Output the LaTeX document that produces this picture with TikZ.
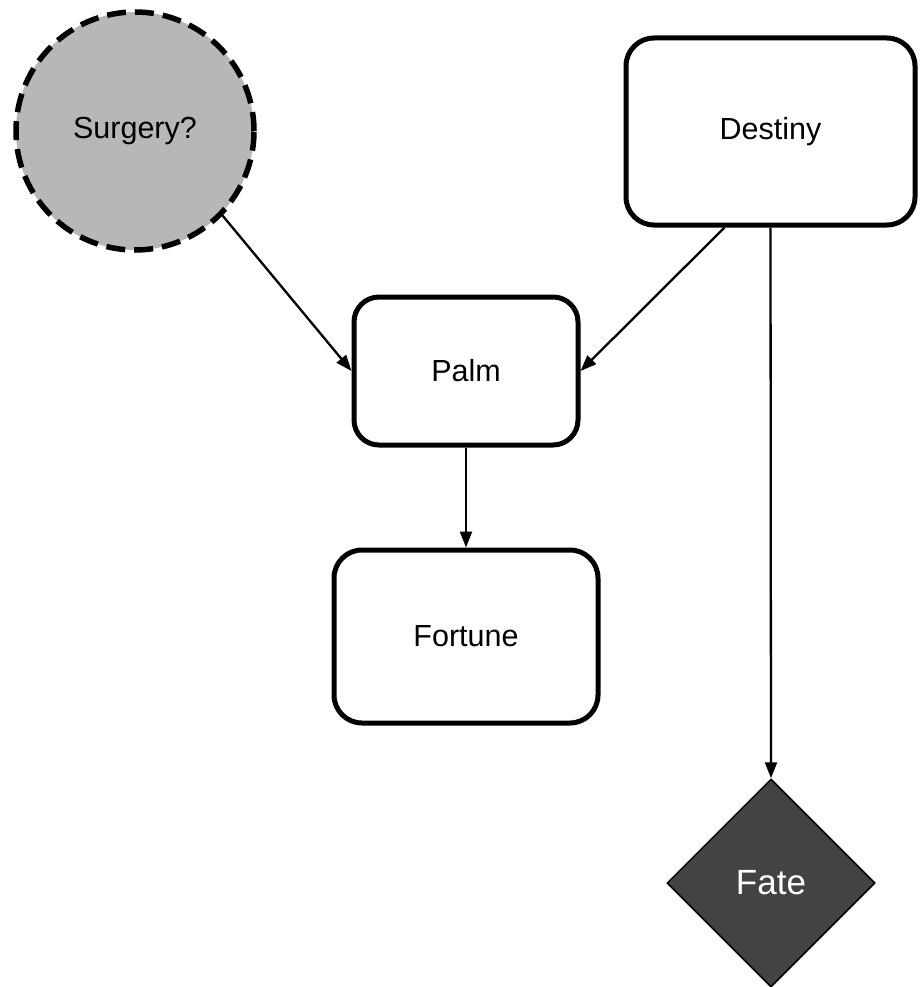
\documentclass[tikz,border=0pt]{standalone}
\usepackage{fontspec}
\setmainfont{Liberation Sans}
\usetikzlibrary{arrows.meta,shapes.geometric}
\definecolor{surgerygray}{RGB}{183,183,183}
\definecolor{fatedark}{RGB}{67,67,67}
\begin{document}
\begin{tikzpicture}[x=1pt,y=-1pt,
  box/.style={draw=black,line width=5pt,fill=white,rounded corners=28pt,
    font=\fontsize{30.5}{36}\selectfont,inner sep=0pt},
  question/.style={circle,draw=black,line width=5.5pt,dash pattern=on 19pt off 9pt,
    fill=surgerygray,font=\fontsize{30.5}{36}\selectfont,inner sep=0pt,minimum size=238pt},
  outcome/.style={diamond,draw=black,line width=1.5pt,fill=fatedark,text=white,
    font=\fontsize{35}{42}\selectfont,inner sep=0pt,minimum width=208pt,minimum height=208pt},
  link/.style={line width=2.3pt,-{Triangle[length=16pt,width=12pt]}}]
  \useasboundingbox (0,0) rectangle (923,987);

  \node[question] (s) at (135,131) {Surgery?};
  \node[box,minimum width=289pt,minimum height=187pt] (d) at (770.5,131.5) {Destiny};
  \node[box,rounded corners=25pt,minimum width=224pt,minimum height=148pt] (p) at (466,371) {Palm};
  \node[box,minimum width=264pt,minimum height=173pt] (fo) at (466,636.5) {Fortune};
  \node[outcome] (fa) at (771,883) {Fate};

  \draw[link] (s.-44) -- (p.west);
  \draw[link] ([xshift=-46pt]d.south) -- (p.east);
  \draw[link] (p.south) -- (fo.north);
  \draw[link] (d.south) -- (fa.north);
\end{tikzpicture}
\end{document}
